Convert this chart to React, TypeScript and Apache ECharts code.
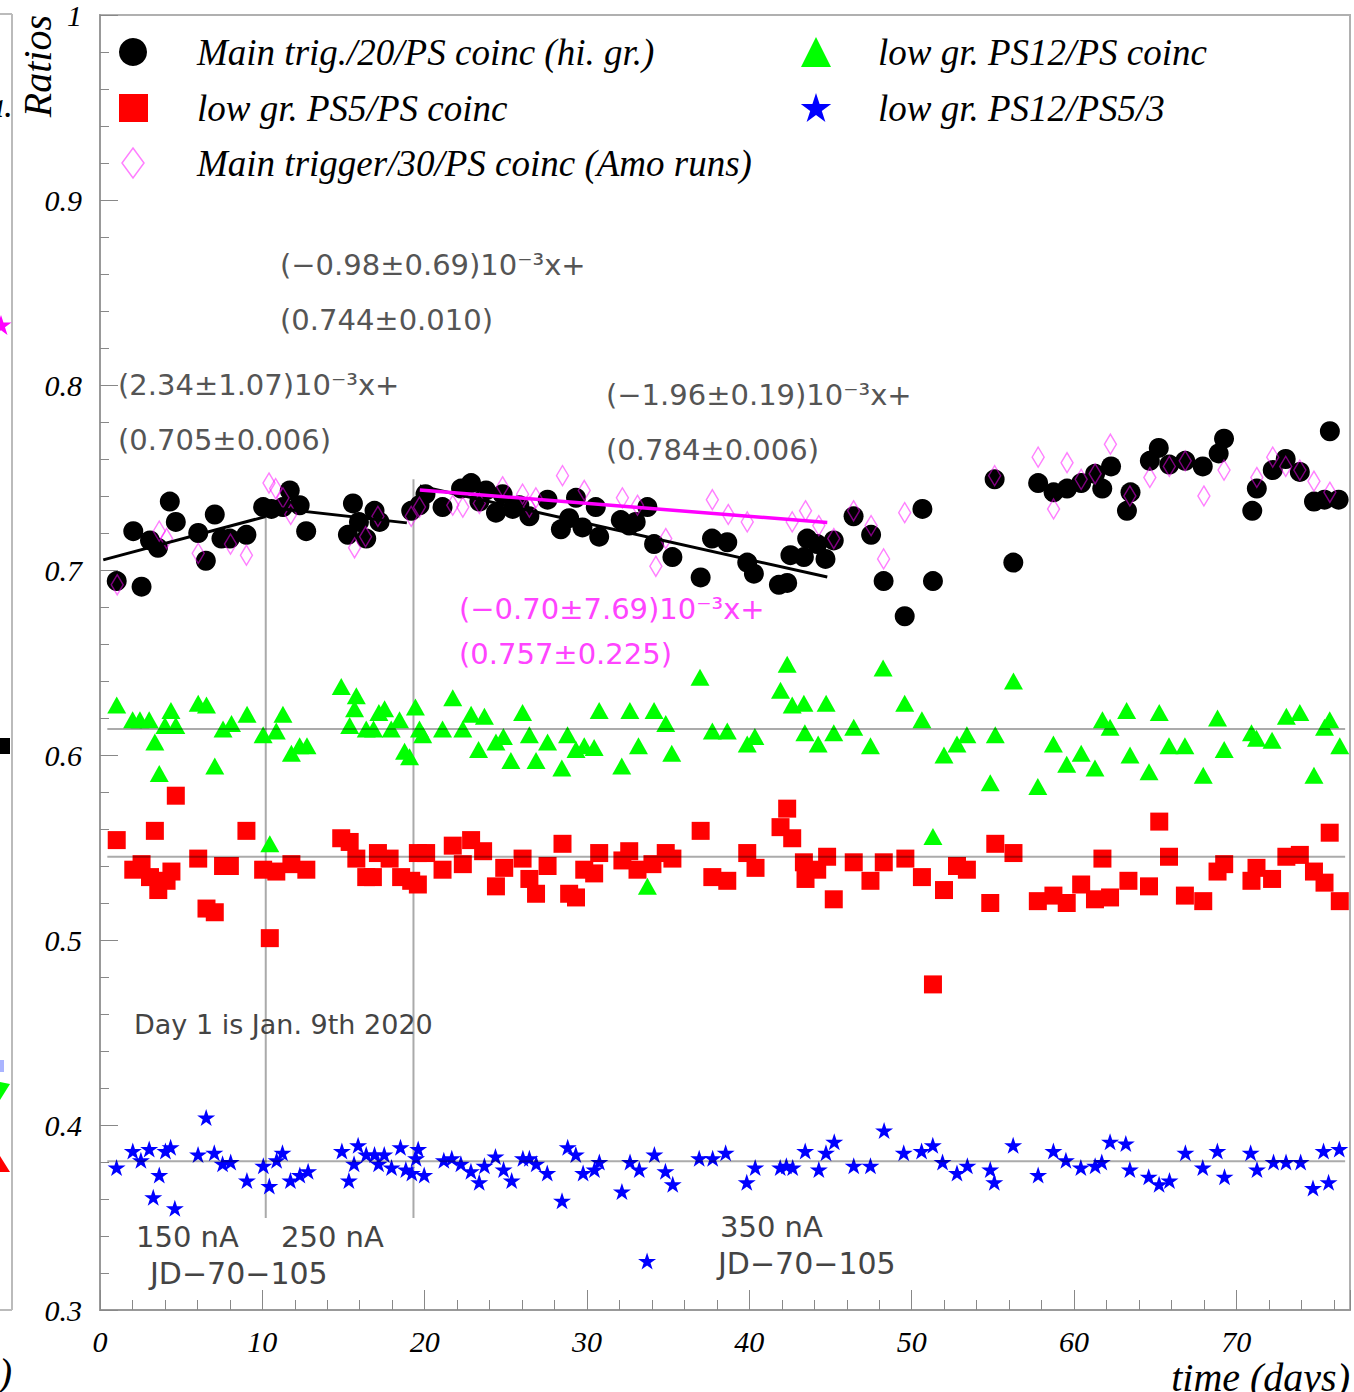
import React, { useEffect, useRef } from "react";
import * as echarts from "echarts";

// ---------------- data (day, ratio) ----------------
const mainTrigHi: number[][] = [
  [1.03, 0.694], [2.56, 0.691], [2.05, 0.721], [3.08, 0.716], [3.57, 0.712], [4.3, 0.737], [4.67, 0.726],
  [6.05, 0.72], [6.52, 0.705], [7.07, 0.73], [7.48, 0.717], [8.0, 0.717], [9.02, 0.719], [10.05, 0.734],
  [10.56, 0.733], [11.27, 0.734], [11.69, 0.743], [12.3, 0.735], [12.7, 0.721], [15.27, 0.719], [15.58, 0.736],
  [15.95, 0.726], [16.4, 0.717], [16.91, 0.732], [17.22, 0.726], [19.17, 0.732], [19.68, 0.735], [20.05, 0.741],
  [21.1, 0.734], [22.24, 0.744], [22.86, 0.747], [23.37, 0.737], [23.78, 0.743], [24.39, 0.731], [24.8, 0.741],
  [25.42, 0.733], [25.83, 0.735], [26.45, 0.729], [27.57, 0.738], [28.39, 0.722], [28.9, 0.728], [29.32, 0.739],
  [29.72, 0.723], [30.54, 0.734], [30.75, 0.718], [32.08, 0.727], [32.6, 0.724], [33.0, 0.726], [33.72, 0.734],
  [34.13, 0.714], [35.26, 0.707], [37.0, 0.696], [37.7, 0.717], [38.64, 0.715], [39.87, 0.704], [40.28, 0.698],
  [41.82, 0.692], [42.33, 0.693], [42.53, 0.708], [43.36, 0.707], [43.56, 0.717], [44.18, 0.714], [44.69, 0.706],
  [45.2, 0.716], [46.42, 0.729], [47.5, 0.719], [48.27, 0.694], [49.57, 0.675], [50.66, 0.733], [51.31, 0.694],
  [55.11, 0.749], [56.26, 0.704], [57.79, 0.747], [58.74, 0.742], [59.57, 0.744], [60.44, 0.747], [61.3, 0.752],
  [61.74, 0.744], [62.28, 0.756], [63.26, 0.732], [63.48, 0.742], [64.67, 0.759], [65.22, 0.766], [65.87, 0.757],
  [66.85, 0.759], [67.93, 0.756], [68.91, 0.763], [69.24, 0.771], [70.98, 0.732], [71.26, 0.744], [72.24, 0.754],
  [73.04, 0.76], [73.91, 0.753], [74.78, 0.737], [75.43, 0.738], [75.76, 0.775], [76.3, 0.738],
];

const amoRuns: number[][] = [
  [1.06, 0.692], [3.65, 0.721], [4.1, 0.717], [6.05, 0.709], [8.04, 0.714], [9.02, 0.708], [10.41, 0.747],
  [10.82, 0.744], [11.27, 0.739], [11.75, 0.73], [15.68, 0.712], [16.36, 0.718], [17.12, 0.729], [19.17, 0.729],
  [19.68, 0.734], [21.73, 0.735], [22.35, 0.734], [23.37, 0.736], [24.8, 0.745], [26.03, 0.741], [26.45, 0.734],
  [26.85, 0.739], [28.49, 0.751], [29.83, 0.743], [32.18, 0.739], [33.11, 0.735], [34.24, 0.702], [34.85, 0.717],
  [37.72, 0.738], [38.7, 0.73], [39.87, 0.726], [42.64, 0.726], [43.46, 0.732], [44.28, 0.724], [45.2, 0.717],
  [46.42, 0.732], [47.5, 0.724], [48.27, 0.706], [49.57, 0.731], [55.11, 0.751], [57.79, 0.761], [58.74, 0.733],
  [59.57, 0.758], [60.44, 0.749], [61.3, 0.752], [62.24, 0.768], [63.44, 0.74], [64.67, 0.75], [65.87, 0.756],
  [66.85, 0.759], [68.0, 0.74], [69.24, 0.754], [71.26, 0.75], [72.24, 0.761], [73.04, 0.756], [73.91, 0.754],
  [74.78, 0.748], [75.76, 0.742],
];

const lowPS5: number[][] = [
  [1.03, 0.554], [2.05, 0.538], [2.56, 0.541], [3.08, 0.534], [3.38, 0.559], [3.59, 0.527], [4.1, 0.532],
  [4.4, 0.537], [4.67, 0.578], [6.05, 0.544], [6.56, 0.517], [7.07, 0.515], [7.58, 0.54], [8.0, 0.54],
  [9.02, 0.559], [10.05, 0.538], [10.46, 0.501], [10.86, 0.537], [11.79, 0.541], [12.71, 0.538], [14.86, 0.555],
  [15.38, 0.553], [15.79, 0.544], [16.4, 0.534], [16.81, 0.534], [17.12, 0.547], [17.84, 0.544], [18.55, 0.534],
  [19.17, 0.532], [19.58, 0.53], [19.58, 0.547], [20.09, 0.547], [21.1, 0.538], [21.73, 0.551], [22.35, 0.541],
  [22.86, 0.554], [23.6, 0.548], [24.39, 0.529], [24.9, 0.539], [26.03, 0.544], [26.45, 0.533], [26.86, 0.525],
  [27.57, 0.54], [28.49, 0.552], [28.9, 0.525], [29.32, 0.523], [29.83, 0.538], [30.44, 0.536], [30.75, 0.547],
  [32.18, 0.543], [32.6, 0.548], [33.11, 0.538], [34.03, 0.541], [34.85, 0.547], [35.26, 0.544], [37.0, 0.559],
  [37.72, 0.534], [38.64, 0.532], [39.87, 0.547], [40.38, 0.539], [41.92, 0.561], [42.33, 0.571], [42.64, 0.555],
  [43.36, 0.542], [43.46, 0.533], [44.18, 0.538], [44.79, 0.545], [45.2, 0.522], [46.43, 0.542], [47.46, 0.532],
  [48.28, 0.542], [49.61, 0.544], [50.63, 0.534], [51.31, 0.476], [51.99, 0.527], [52.79, 0.54], [53.4, 0.538],
  [54.84, 0.52], [55.15, 0.552], [56.27, 0.547], [57.77, 0.521], [58.73, 0.524], [59.55, 0.52], [60.44, 0.53],
  [61.29, 0.522], [61.75, 0.544], [62.22, 0.523], [63.35, 0.532], [64.62, 0.529], [65.25, 0.564], [65.85, 0.545],
  [66.83, 0.524], [67.96, 0.521], [68.84, 0.537], [69.25, 0.541], [70.93, 0.532], [71.24, 0.539], [72.2, 0.533],
  [73.08, 0.545], [73.91, 0.546], [74.78, 0.537], [75.43, 0.531], [75.75, 0.558], [76.37, 0.521],
];

const lowPS12: number[][] = [
  [1.03, 0.627], [2.01, 0.619], [2.46, 0.619], [3.03, 0.619], [3.38, 0.607], [3.65, 0.59], [4.0, 0.616],
  [4.37, 0.624], [4.67, 0.616], [6.05, 0.628], [6.56, 0.627], [7.07, 0.594], [7.58, 0.614], [8.1, 0.617],
  [9.06, 0.622], [10.05, 0.611], [10.46, 0.552], [10.86, 0.613], [11.27, 0.622], [11.79, 0.601], [12.3, 0.605],
  [12.75, 0.605], [14.86, 0.637], [15.38, 0.616], [15.68, 0.625], [15.79, 0.632], [16.4, 0.614], [16.85, 0.614],
  [17.18, 0.623], [17.53, 0.625], [17.94, 0.614], [18.45, 0.619], [18.76, 0.602], [19.07, 0.599], [19.43, 0.626],
  [19.68, 0.614], [19.88, 0.611], [21.1, 0.614], [21.73, 0.631], [22.35, 0.614], [22.86, 0.622], [23.32, 0.603],
  [23.68, 0.621], [24.39, 0.607], [24.85, 0.61], [25.31, 0.597], [26.03, 0.623], [26.45, 0.611], [26.86, 0.597],
  [27.57, 0.607], [28.45, 0.593], [28.8, 0.611], [29.32, 0.603], [29.83, 0.605], [30.44, 0.604], [30.75, 0.624],
  [32.14, 0.594], [32.64, 0.624], [33.17, 0.605], [33.72, 0.529], [34.13, 0.624], [34.85, 0.617], [35.22, 0.601],
  [36.96, 0.642], [37.72, 0.613], [38.64, 0.613], [39.87, 0.606], [40.34, 0.61], [41.92, 0.635], [42.33, 0.649],
  [42.64, 0.627], [43.36, 0.628], [43.42, 0.612], [44.24, 0.606], [44.73, 0.628], [45.2, 0.612], [46.43, 0.615],
  [47.46, 0.605], [48.24, 0.647], [49.57, 0.628], [50.63, 0.619], [51.31, 0.556], [51.99, 0.6], [52.79, 0.606],
  [53.4, 0.611], [54.84, 0.585], [55.15, 0.611], [56.27, 0.64], [57.77, 0.583], [58.73, 0.606], [59.55, 0.595],
  [60.44, 0.601], [61.29, 0.593], [61.75, 0.619], [62.22, 0.615], [63.24, 0.624], [63.45, 0.6], [64.62, 0.591],
  [65.25, 0.623], [65.85, 0.605], [66.83, 0.605], [67.96, 0.589], [68.84, 0.62], [69.25, 0.603], [70.93, 0.612],
  [71.24, 0.609], [72.2, 0.608], [73.08, 0.621], [73.91, 0.623], [74.78, 0.589], [75.43, 0.615], [75.75, 0.619],
  [76.37, 0.605],
];

const ps12ps5: number[][] = [
  [1.02, 0.377], [2.02, 0.386], [2.52, 0.381], [3.03, 0.387], [3.28, 0.361], [3.65, 0.373], [4.03, 0.386],
  [4.35, 0.388], [4.61, 0.355], [6.04, 0.384], [6.54, 0.404], [7.04, 0.385], [7.55, 0.379], [8.05, 0.38],
  [9.05, 0.37], [10.06, 0.378], [10.43, 0.367], [10.88, 0.381], [11.24, 0.385], [11.73, 0.37], [12.31, 0.373],
  [12.82, 0.375], [14.9, 0.386], [15.33, 0.37], [15.65, 0.379], [15.9, 0.389], [16.4, 0.384], [16.91, 0.384],
  [17.16, 0.379], [17.51, 0.384], [17.96, 0.377], [18.51, 0.388], [18.84, 0.376], [19.21, 0.374], [19.47, 0.382],
  [19.6, 0.387], [19.97, 0.373], [21.18, 0.381], [21.67, 0.382], [22.23, 0.379], [22.85, 0.375], [23.36, 0.369],
  [23.68, 0.378], [24.36, 0.383], [24.86, 0.376], [25.36, 0.37], [26.05, 0.382], [26.45, 0.382], [26.87, 0.379],
  [27.55, 0.374], [28.46, 0.359], [28.81, 0.388], [29.31, 0.384], [29.76, 0.374], [30.46, 0.376], [30.76, 0.38],
  [32.15, 0.364], [32.65, 0.38], [33.22, 0.376], [34.15, 0.384], [34.83, 0.375], [35.28, 0.368], [36.91, 0.382],
  [37.74, 0.382], [38.54, 0.385], [39.84, 0.369], [40.36, 0.377], [41.9, 0.377], [42.28, 0.378], [42.67, 0.377],
  [43.44, 0.386], [44.28, 0.376], [44.72, 0.385], [45.23, 0.391], [46.43, 0.378], [47.46, 0.378], [48.3, 0.397],
  [49.51, 0.385], [50.61, 0.386], [51.3, 0.389], [51.9, 0.38], [52.79, 0.374], [53.43, 0.378], [54.84, 0.376],
  [55.09, 0.369], [56.25, 0.389], [57.79, 0.373], [58.73, 0.386], [59.5, 0.381], [60.42, 0.377], [61.3, 0.378],
  [61.71, 0.38], [62.22, 0.391], [63.19, 0.39], [63.44, 0.376], [64.6, 0.372], [65.24, 0.368], [65.88, 0.37],
  [66.86, 0.385], [67.93, 0.377], [68.83, 0.386], [69.27, 0.372], [70.88, 0.385], [71.27, 0.376], [72.29, 0.38],
  [73.06, 0.38], [73.96, 0.38], [74.72, 0.366], [75.37, 0.386], [75.68, 0.369], [76.34, 0.387],
];

const loneStar: number[][] = [[33.7, 0.3265]];

// linear fits: value = intercept + slope * day
const fitSlopes = [2.34e-3, -0.98e-3, -1.96e-3, -0.7e-3];
const fitIntercepts = [0.705, 0.744, 0.784, 0.757];
const fitFrom = [0.2, 10.2, 19.7, 19.7];
const fitTo = [10.2, 18.9, 44.8, 44.8];
const fitColors = ["#000000", "#000000", "#000000", "#ff00ff"];

// constant levels
const meanLevels = [0.614, 0.545, 0.3804];
const meanFrom = 0.45;
const meanTo = 76.7;

// beam current change markers
const changeDays = [10.21, 19.31];
const changeTops = [0.733, 0.749];
const changeBottom = 0.3497;

const xTickLabels = ["0", "10", "20", "30", "40", "50", "60", "70"];

const STAR = "path://M0,-10L2.245,-3.09L9.511,-3.09L3.633,1.18L5.878,8.09L0,3.82L-5.878,8.09L-3.633,1.18L-9.511,-3.09L-2.245,-3.09Z";

function starPoints(cx: number, cy: number, r: number): number[][] {
  const pts: number[][] = [];
  for (let i = 0; i < 10; i++) {
    const rr = i % 2 === 0 ? r : r * 0.382;
    const a = -Math.PI / 2 + (i * Math.PI) / 5;
    pts.push([cx + rr * Math.cos(a), cy + rr * Math.sin(a)]);
  }
  return pts;
}

const SERIF = "Liberation Serif";
const SANS = "DejaVu Sans";

function txt(x: number, y: number, text: string, opts: any = {}) {
  const align = opts.align || "left";
  return {
    type: "text",
    x,
    y,
    rotation: opts.rotation || 0,
    z: 100,
    style: {
      text,
      fill: opts.fill || "#000",
      fontSize: opts.fontSize || 30,
      fontFamily: opts.fontFamily || SERIF,
      fontStyle: opts.fontStyle || "normal",
      fontWeight: opts.fontWeight || "normal",
      align,
      textAlign: align,
      verticalAlign: "middle",
      textVerticalAlign: "middle",
    },
  };
}

export default function App() {
  const ref = useRef<HTMLDivElement>(null);

  useEffect(() => {
    if (!ref.current) return;
    const chart = echarts.init(ref.current, undefined, { renderer: "svg" });

    const scatter = (name: string, data: number[][], symbol: string, size: any, itemStyle: any, z: number) => ({
      name,
      type: "scatter",
      data,
      symbol,
      symbolSize: size,
      itemStyle: { opacity: 1, ...itemStyle },
      z,
      silent: true,
    });

    const fitSeries = fitSlopes.map((s, i) => ({
      name: "fit" + i,
      type: "line",
      data: [
        [fitFrom[i], fitIntercepts[i] + s * fitFrom[i]],
        [fitTo[i], fitIntercepts[i] + s * fitTo[i]],
      ],
      symbol: "none",
      showSymbol: false,
      lineStyle: { color: fitColors[i], width: i === 3 ? 3.5 : 3 },
      z: 6,
      silent: true,
    }));

    const meanSeries = meanLevels.map((m, i) => ({
      name: "mean" + i,
      type: "line",
      data: [
        [meanFrom, m],
        [meanTo, m],
      ],
      symbol: "none",
      lineStyle: { color: "rgba(0,0,0,0.33)", width: 2 },
      z: 5,
      silent: true,
    }));

    const changeSeries = changeDays.map((d, i) => ({
      name: "change" + i,
      type: "line",
      data: [
        [d, changeBottom],
        [d, changeTops[i]],
      ],
      symbol: "none",
      lineStyle: { color: "#aaaaaa", width: 2 },
      z: 1,
      silent: true,
    }));

    const fitText = "#555555";
    const mag = "#ff44ff";
    const noteText = "#444444";

    const graphic: any[] = [
      // neighbour panel remnants
      { type: "line", shape: { x1: 12, y1: 14, x2: 12, y2: 1310 }, style: { stroke: "#bbbbbb", lineWidth: 2 } },
      { type: "line", shape: { x1: 0, y1: 14, x2: 12, y2: 14 }, style: { stroke: "#bbbbbb", lineWidth: 2 } },
      { type: "line", shape: { x1: 0, y1: 1310, x2: 12, y2: 1310 }, style: { stroke: "#bbbbbb", lineWidth: 2 } },
      txt(13, 105, "a.", { fontSize: 36, fontStyle: "italic", align: "right" }),
      txt(12, 1372, ")", { fontSize: 40, fontStyle: "italic", align: "right" }),
      { type: "polygon", shape: { points: starPoints(1, 326, 11) }, style: { fill: "#ff00ff" } },
      { type: "rect", shape: { x: 0, y: 738, width: 10, height: 16 }, style: { fill: "#000" } },
      { type: "rect", shape: { x: 0, y: 1060, width: 4, height: 12 }, style: { fill: "#aab4ff" } },
      { type: "polygon", shape: { points: [[0, 1082], [10, 1084], [0, 1100]] }, style: { fill: "#00ff00" } },
      { type: "polygon", shape: { points: [[0, 1156], [10, 1172], [0, 1172]] }, style: { fill: "#ff0000" } },

      // axis titles
      txt(37, 15, "Ratios", { fontSize: 40, fontStyle: "italic", align: "right", rotation: Math.PI / 2 }),
      txt(1350, 1377, "time (days)", { fontSize: 40, fontStyle: "italic", align: "right" }),

      // legend
      { type: "circle", shape: { cx: 133, cy: 52, r: 14 }, style: { fill: "#000" }, z: 100 },
      { type: "rect", shape: { x: 119, y: 94, width: 29, height: 28 }, style: { fill: "#ff0000" }, z: 100 },
      {
        type: "polygon",
        shape: { points: [[133, 148], [144, 163], [133, 178], [122, 163]] },
        style: { fill: "none", stroke: "rgba(255,0,255,0.5)", lineWidth: 1.5 },
        z: 100,
      },
      { type: "polygon", shape: { points: [[816, 37], [831, 67], [801, 67]] }, style: { fill: "#00ff00" }, z: 100 },
      { type: "polygon", shape: { points: starPoints(816, 109, 16) }, style: { fill: "#0000ff" }, z: 100 },
      txt(197, 52, "Main trig./20/PS coinc (hi. gr.)", { fontSize: 37, fontStyle: "italic" }),
      txt(197, 108, "low gr. PS5/PS coinc", { fontSize: 37, fontStyle: "italic" }),
      txt(197, 163, "Main trigger/30/PS coinc (Amo runs)", { fontSize: 37, fontStyle: "italic" }),
      txt(878, 52, "low gr. PS12/PS coinc", { fontSize: 37, fontStyle: "italic" }),
      txt(878, 108, "low gr. PS12/PS5/3", { fontSize: 37, fontStyle: "italic" }),

      // fit annotations
      txt(280, 265, "(−0.98±0.69)10⁻³x+", { fontSize: 29, fontFamily: SANS, fill: fitText }),
      txt(280, 320, "(0.744±0.010)", { fontSize: 29, fontFamily: SANS, fill: fitText }),
      txt(118, 385, "(2.34±1.07)10⁻³x+", { fontSize: 29, fontFamily: SANS, fill: fitText }),
      txt(118, 440, "(0.705±0.006)", { fontSize: 29, fontFamily: SANS, fill: fitText }),
      txt(606, 395, "(−1.96±0.19)10⁻³x+", { fontSize: 29, fontFamily: SANS, fill: fitText }),
      txt(606, 450, "(0.784±0.006)", { fontSize: 29, fontFamily: SANS, fill: fitText }),
      txt(459, 609, "(−0.70±7.69)10⁻³x+", { fontSize: 29, fontFamily: SANS, fill: mag }),
      txt(459, 654, "(0.757±0.225)", { fontSize: 29, fontFamily: SANS, fill: mag }),

      // other notes
      txt(134, 1024, "Day 1 is Jan. 9th 2020", { fontSize: 27, fontFamily: SANS, fill: noteText }),
      txt(136, 1237, "150 nA", { fontSize: 29, fontFamily: SANS, fill: noteText }),
      txt(281, 1237, "250 nA", { fontSize: 29, fontFamily: SANS, fill: noteText }),
      txt(150, 1273, "JD−70−105", { fontSize: 30, fontFamily: SANS, fill: noteText }),
      txt(720, 1227, "350 nA", { fontSize: 29, fontFamily: SANS, fill: noteText }),
      txt(718, 1263, "JD−70−105", { fontSize: 30, fontFamily: SANS, fill: noteText }),
    ];

    const axisFont = { fontFamily: SERIF, fontStyle: "italic", fontSize: 30, color: "#000" };

    chart.setOption({
      animation: false,
      backgroundColor: "#ffffff",
      grid: {
        left: 100,
        top: 14,
        width: 1250,
        height: 1296,
        show: true,
        borderColor: "#b0b0b0",
        borderWidth: 2,
        backgroundColor: "rgba(0,0,0,0)",
      },
      xAxis: [
        {
          type: "value",
          min: 0,
          max: 77,
          interval: 10,
          position: "bottom",
          axisLine: { show: true, onZero: false, lineStyle: { color: "#999", width: 2 } },
          axisTick: { show: true, inside: true, length: 20, lineStyle: { color: "#888", width: 1 } },
          axisLabel: {
            ...axisFont,
            margin: 16,
            formatter: (v: number) => {
              const s = String(Math.round(v));
              return xTickLabels.indexOf(s) >= 0 && Math.abs(v - Math.round(v)) < 1e-6 ? s : "";
            },
          },
          splitLine: { show: false },
        },
        {
          type: "value",
          min: 0,
          max: 77,
          interval: 2,
          position: "bottom",
          axisLine: { show: false },
          axisTick: { show: true, inside: true, length: 10, lineStyle: { color: "#888", width: 1 } },
          axisLabel: { show: false },
          splitLine: { show: false },
        },
      ],
      yAxis: {
        type: "value",
        min: 0.3,
        max: 1.0,
        interval: 0.1,
        axisLine: { show: true, lineStyle: { color: "#999", width: 2 } },
        axisTick: { show: true, inside: true, length: 18, lineStyle: { color: "#888", width: 1 } },
        minorTick: { show: true, splitNumber: 5, length: 9, lineStyle: { color: "#888", width: 1 } },
        axisLabel: {
          ...axisFont,
          margin: 18,
          formatter: (v: number) => (Math.abs(v - 1) < 1e-6 ? "1" : v.toFixed(1)),
        },
        splitLine: { show: false },
      },
      series: [
        ...changeSeries,
        scatter("low gr. PS5/PS coinc", lowPS5, "rect", 18, { color: "#ff0000" }, 2),
        scatter("low gr. PS12/PS coinc", lowPS12, "triangle", [19, 17], { color: "#00ff00" }, 2),
        scatter("low gr. PS12/PS5/3", ps12ps5, STAR, [18, 17], { color: "#0000ff" }, 2),
        scatter("marker", loneStar, STAR, [18, 17], { color: "#0000ff" }, 2),
        scatter("Main trig./20/PS coinc (hi. gr.)", mainTrigHi, "circle", 20, { color: "#000000" }, 3),
        scatter(
          "Main trigger/30/PS coinc (Amo runs)",
          amoRuns,
          "diamond",
          [12, 20],
          { color: "rgba(0,0,0,0)", borderColor: "rgba(255,0,255,0.5)", borderWidth: 1.5 },
          4
        ),
        ...meanSeries,
        ...fitSeries,
      ],
      graphic,
    });

    return () => chart.dispose();
  }, []);

  return (
    <div
      ref={ref}
      style={{ position: "absolute", left: 0, top: 0, width: 1354, height: 1392, background: "#fff" }}
    />
  );
}
